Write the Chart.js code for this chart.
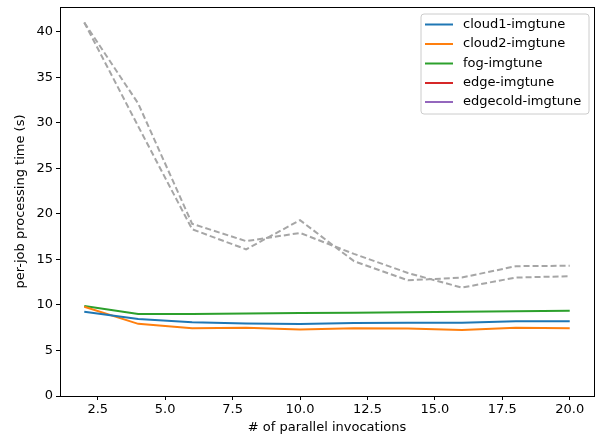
<!DOCTYPE html>
<html>
<head>
<meta charset="utf-8">
<script src="https://cdn.jsdelivr.net/npm/chart.js@4.4.1/dist/chart.umd.min.js"></script>
<style>
html,body{margin:0;padding:0;background:#fff;}
#wrap{width:600px;height:439px;position:relative;}
</style>
</head>
<body>
<div id="wrap"><canvas id="c" width="600" height="439"></canvas></div>
<script>
const invocations = [2, 4, 6, 8, 10, 12, 14, 16, 18, 20];
const cloud1 = [9.25, 8.45, 8.1, 7.95, 7.9, 8.0, 8.05, 8.05, 8.2, 8.2];
const cloud2 = [9.8, 7.92, 7.45, 7.5, 7.3, 7.45, 7.4, 7.25, 7.5, 7.45];
const fog = [9.87, 9.0, 9.0, 9.05, 9.1, 9.15, 9.2, 9.25, 9.3, 9.35];
const edge = [41.0, 32.1, 18.9, 17.0, 17.9, 15.6, 13.5, 11.9, 13.0, 13.15];
const edgecold = [41.0, 29.6, 18.3, 16.1, 19.3, 14.8, 12.7, 13.0, 14.25, 14.3];
const xTicks = [2.5, 5.0, 7.5, 10.0, 12.5, 15.0, 17.5, 20.0];
const yTicks = [0, 5, 10, 15, 20, 25, 30, 35, 40];
const seriesNames = ['cloud1-imgtune', 'cloud2-imgtune', 'fog-imgtune', 'edge-imgtune', 'edgecold-imgtune'];
const legendColors = ['#1f77b4', '#ff7f0e', '#2ca02c', '#d62728', '#9467bd'];

const FONT = "'DejaVu Sans', sans-serif";
const pts = arr => invocations.map((x, i) => ({x: x, y: arr[i]}));
const GRAY = '#a6a6a6';

const ds = [
  {label: seriesNames[0], data: pts(cloud1), borderColor: legendColors[0]},
  {label: seriesNames[1], data: pts(cloud2), borderColor: legendColors[1]},
  {label: seriesNames[2], data: pts(fog), borderColor: legendColors[2]},
  {label: seriesNames[3], data: pts(edge), borderColor: GRAY, borderDash: [6, 3]},
  {label: seriesNames[4], data: pts(edgecold), borderColor: GRAY, borderDash: [6, 3]}
].map(d => Object.assign({borderWidth: 2, pointRadius: 0, tension: 0, fill: false}, d));

const framePlugin = {
  id: 'frame',
  afterDraw(chart) {
    const ctx = chart.ctx;
    const a = chart.chartArea;
    ctx.save();
    ctx.strokeStyle = '#000';
    ctx.lineWidth = 1;
    ctx.strokeRect(Math.round(a.left) + 0.5, Math.round(a.top) + 0.5,
      Math.round(a.right - a.left), Math.round(a.bottom - a.top));
    // legend
    const L = 421, T = 14, R = 589, B = 114, r = 3;
    ctx.beginPath();
    ctx.moveTo(L + r, T);
    ctx.lineTo(R - r, T); ctx.arcTo(R, T, R, T + r, r);
    ctx.lineTo(R, B - r); ctx.arcTo(R, B, R - r, B, r);
    ctx.lineTo(L + r, B); ctx.arcTo(L, B, L, B - r, r);
    ctx.lineTo(L, T + r); ctx.arcTo(L, T, L + r, T, r);
    ctx.closePath();
    ctx.fillStyle = 'rgba(255,255,255,0.8)';
    ctx.fill();
    ctx.strokeStyle = '#cccccc';
    ctx.stroke();
    ctx.font = '13px ' + FONT;
    ctx.textBaseline = 'middle';
    ctx.textAlign = 'left';
    const rows = [24.5, 44, 63.5, 83, 102];
    seriesNames.forEach((name, i) => {
      const y = rows[i];
      ctx.strokeStyle = legendColors[i];
      ctx.lineWidth = 2;
      ctx.beginPath();
      ctx.moveTo(425, y); ctx.lineTo(453, y);
      ctx.stroke();
      ctx.fillStyle = '#000';
      ctx.fillText(name, 463, y);
    });
    ctx.restore();
  }
};

new Chart(document.getElementById('c'), {
  type: 'line',
  data: {datasets: ds},
  plugins: [framePlugin],
  options: {
    responsive: false,
    animation: false,
    devicePixelRatio: 1,
    layout: {padding: {left: 11, right: 6, top: 7, bottom: 2}},
    plugins: {legend: {display: false}, tooltip: {enabled: false}},
    scales: {
      x: {
        type: 'linear', min: 1.1, max: 20.9,
        afterBuildTicks: s => { s.ticks = xTicks.map(v => ({value: v})); },
        afterFit: s => { s.height = 41; s.paddingLeft = 0; s.paddingRight = 0; },
        ticks: {color: '#000', font: {family: FONT, size: 13}, padding: 2, maxRotation: 0,
          callback: v => Number(v).toFixed(1)},
        grid: {display: true, drawOnChartArea: false, drawTicks: true, tickLength: 4, color: '#000'},
        border: {display: false},
        title: {display: true, text: '# of parallel invocations', color: '#000',
          font: {family: FONT, size: 13}, padding: {top: 2, bottom: 2}}
      },
      y: {
        type: 'linear', min: 0, max: 42.7,
        afterBuildTicks: s => { s.ticks = yTicks.map(v => ({value: v})); },
        afterFit: s => { s.width = 49; s.paddingTop = 0; s.paddingBottom = 0; },
        ticks: {color: '#000', font: {family: FONT, size: 13}, padding: 3,
          callback: v => String(v)},
        grid: {display: true, drawOnChartArea: false, drawTicks: true, tickLength: 4, color: '#000'},
        border: {display: false},
        title: {display: true, text: 'per-job processing time (s)', color: '#000',
          font: {family: FONT, size: 13}, padding: {top: 2, bottom: 2}}
      }
    }
  }
});
</script>
</body>
</html>
